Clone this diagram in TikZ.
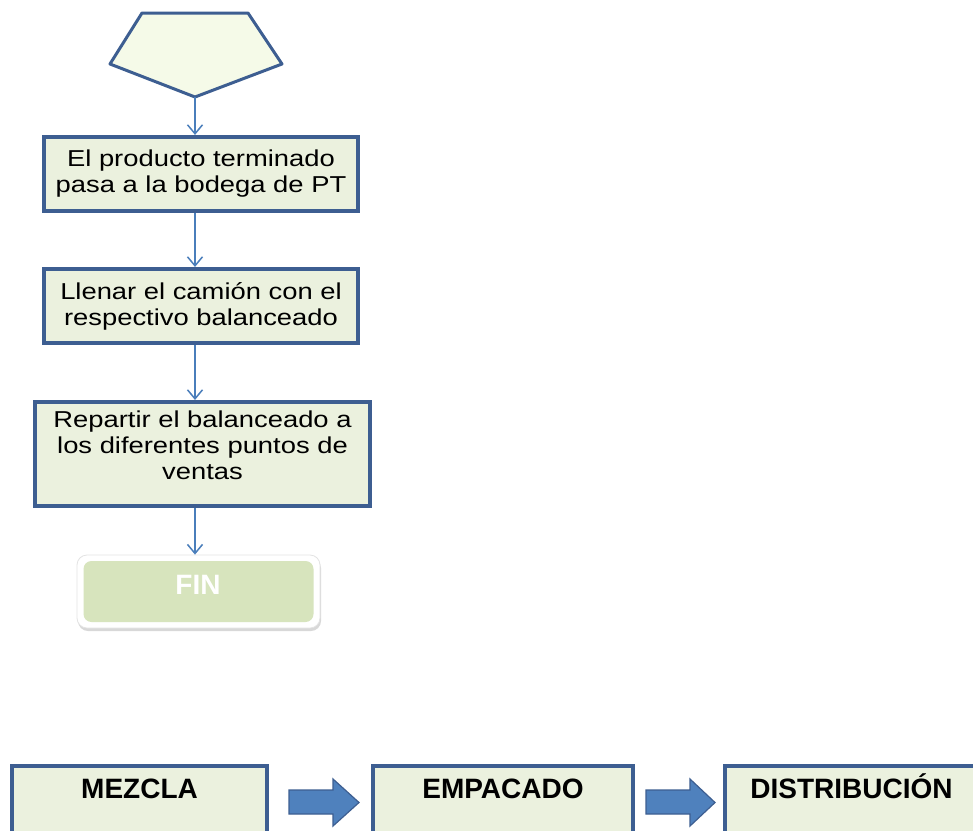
\documentclass[tikz,border=0pt]{standalone}
\usepackage{fontspec}
\setmainfont{Liberation Sans}
\newfontfamily\boxfont[FakeStretch=1.19]{Liberation Sans}
\usetikzlibrary{arrows.meta,shadows}
\definecolor{boxfill}{HTML}{EBF1DE}
\definecolor{boxline}{HTML}{3D5E91}
\definecolor{connc}{HTML}{4A7EBB}
\definecolor{pentfill}{HTML}{F5FAE8}
\definecolor{finfill}{HTML}{D7E4BD}
\definecolor{arrfill}{HTML}{4F81BD}
\begin{document}
\begin{tikzpicture}[x=1pt,y=-1pt,
  procbox/.style={draw=boxline, fill=boxfill, line width=3.6pt, inner sep=0pt},
  boxtext/.style={inner sep=0pt, align=center, font=\boxfont\fontsize{23}{26}\selectfont},
  headtext/.style={inner sep=0pt, anchor=base, font=\bfseries\fontsize{28}{30}\selectfont},
  connector/.style={draw=connc, line width=1.5pt, -{Straight Barb[length=9pt,width=15pt]}},
  blockarrow/.style={fill=arrfill, draw=boxline, line width=1.2pt, line join=miter}
]
\clip (0,0) rectangle (973,830);
\fill[white] (0,0) rectangle (973,830);

% pentagon (off-page connector)
\draw[draw=boxline, fill=pentfill, line width=3pt, line join=round]
  (142,13) -- (248,13) -- (282,64) -- (195,97) -- (110,64) -- cycle;
\coordinate (p) at (195,97);

% process boxes
\node[procbox, boxtext, minimum width=314.5pt, minimum height=74.5pt] (b1) at (201,174)
  {El producto terminado\\pasa a la bodega de PT};
\node[procbox, boxtext, minimum width=314.5pt, minimum height=74.5pt] (b2) at (201,306)
  {Llenar el camión con el\\respectivo balanceado};
\node[procbox, minimum width=335.5pt, minimum height=104.5pt] (b3) at (202.5,454) {};
\node[boxtext, anchor=north] (t3) at (202.5,411)
  {Repartir el balanceado a\\los diferentes puntos de\\ventas};

% FIN terminator
\node[fill=white, draw=gray!22, line width=0.8pt, rounded corners=10pt, minimum width=243pt, minimum height=73pt,
      drop shadow={opacity=0.3, shadow xshift=1pt, shadow yshift=-3pt}] (fin) at (198.5,591.5) {};
\node[fill=finfill, rounded corners=8pt, minimum width=230pt, minimum height=61pt] (finin) at (fin.center) {};
\node[inner sep=0pt, text=white, font=\bfseries\fontsize{28}{30}\selectfont] (fintxt) at (198,585) {FIN};

% connectors
\draw[connector] (p) -- (p |- b1.north);
\draw[connector] (p |- b1.south) -- (p |- b2.north);
\draw[connector] (p |- b2.south) -- (p |- b3.north);
\draw[connector] (p |- b3.south) -- (p |- fin.north);

% bottom stage boxes
\node[procbox, minimum width=255.5pt, minimum height=120pt] (b4) at (139.5,825.75) {};
\node[procbox, minimum width=260.5pt, minimum height=120pt] (b5) at (503,825.75) {};
\node[procbox, minimum width=253.5pt, minimum height=120pt] (b6) at (851.5,825.75) {};
\node[headtext] (t4) at (139.5,798) {MEZCLA};
\node[headtext] (t5) at (503,798) {EMPACADO};
\node[headtext] (t6) at (851.5,798) {DISTRIBUCIÓN};

% block arrows
\draw[blockarrow] (289,790) -- (333,790) -- (333,779) -- (359,802.5) -- (333,826) -- (333,814) -- (289,814) -- cycle;
\draw[blockarrow] (646,790) -- (690,790) -- (690,779) -- (715,802.5) -- (690,826) -- (690,814) -- (646,814) -- cycle;
\end{tikzpicture}
\end{document}
